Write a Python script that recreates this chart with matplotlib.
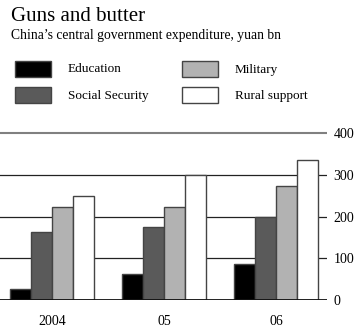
import matplotlib

matplotlib.use("Agg")
import matplotlib.pyplot as plt
from matplotlib.patches import Rectangle
import numpy as np

plt.rcParams["font.family"] = ["Liberation Serif", "DejaVu Serif"]

# 中央财政支出（十亿元）
years = ["2004", "05", "06"]
series_names = ["Education", "Social Security", "Military", "Rural support"]
education = [26, 62, 87]
social_security = [162, 174, 200]
military = [224, 224, 274]
rural_support = [249, 300, 336]
yticks = [0, 100, 200, 300, 400]

colors = ["#000000", "#5a5a5a", "#b2b2b2", "#ffffff"]
edge = "#444444"

W, H = 354, 333
fig = plt.figure(figsize=(W / 100, H / 100), dpi=100)

# 坐标区：y=0 在 300px，每 100 单位约 41.7px；横线一直画到 327px
px_per_unit = 41.67 / 100
ymax = 410
ax_h = ymax * px_per_unit
ax = fig.add_axes([0, 33 / H, 327 / W, ax_h / H])

x = np.arange(len(years))
bw = 0.186
values = [education, social_security, military, rural_support]
for i, (vals, c) in enumerate(zip(values, colors)):
    ax.bar(x + (i - 1.5) * bw, vals, width=bw, color=c, edgecolor=edge,
           linewidth=1.0, zorder=3)

ax.set_xlim(-52 / 112, (327 - 52) / 112)
ax.set_ylim(0, ymax)

# 网格线：0 为黑色粗线，400 为灰色
for v in yticks:
    if v == 0:
        ax.axhline(v, color="#111111", linewidth=1.3, zorder=4)
    elif v == 400:
        ax.axhline(v, color="#808080", linewidth=1.5, zorder=1)
    else:
        ax.axhline(v, color="#222222", linewidth=0.9, zorder=1)

for s in ax.spines.values():
    s.set_visible(False)

ax.yaxis.tick_right()
ax.set_yticks(yticks)
ax.set_yticklabels([str(v) for v in yticks])
ax.tick_params(axis="y", length=0, pad=4.5, labelsize=10)
ax.set_xticks(x)
ax.set_xticklabels(years)
ax.tick_params(axis="x", length=0, pad=11, labelsize=10)

# 标题
fig.text(11 / W, 1 - 21 / H, "Guns and butter", fontsize=15,
         va="baseline", ha="left")
fig.text(11 / W, 1 - 39 / H, "China\u2019s central government expenditure, yuan bn",
         fontsize=9.8, va="baseline", ha="left")

# 图例（手工绘制）
legend_pos = [(15, 61), (15, 87), (182, 61), (182, 87)]
for (lx, ly), name, c in zip(legend_pos, series_names, colors):
    fig.add_artist(Rectangle((lx / W, 1 - (ly + 16) / H), 36 / W, 16 / H,
                             transform=fig.transFigure, facecolor=c,
                             edgecolor=edge, linewidth=1.0))
    fig.text((lx + 53) / W, 1 - (ly + 8.5) / H, name, fontsize=9.5,
             va="center", ha="left")

fig.savefig("out.png", dpi=100)
